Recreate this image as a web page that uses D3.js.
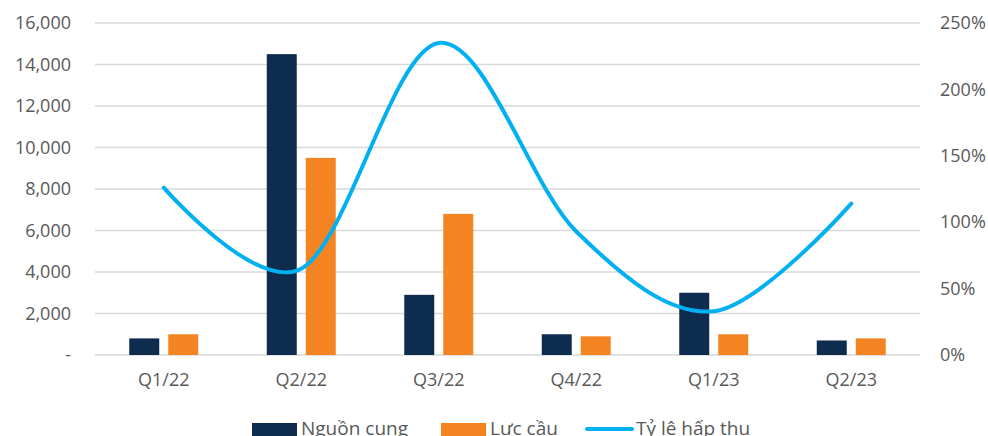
<!DOCTYPE html>
<html>
<head>
<meta charset="utf-8">
<script src="https://cdn.jsdelivr.net/npm/d3@7"></script>
<style>
  body { margin: 0; background: #fff; }
  svg { display: block; font-family: "Open Sans", sans-serif; }
</style>
</head>
<body>
<div id="chart"></div>
<script>
// Data
var quarters = ["Q1/22", "Q2/22", "Q3/22", "Q4/22", "Q1/23", "Q2/23"];
var supply = [800, 14500, 2900, 1000, 3000, 700];      // Nguồn cung
var demand = [1000, 9500, 6800, 900, 1000, 800];       // Lực cầu
var absorption = [1.26, 0.65, 2.35, 0.93, 0.33, 1.14]; // Tỷ lệ hấp thụ
var leftTicks = [0, 2000, 4000, 6000, 8000, 10000, 12000, 14000, 16000];
var rightTicks = [0, 0.5, 1, 1.5, 2, 2.5];

var W = 988, H = 436;
var margin = {top: 23, right: 68, bottom: 81, left: 95};
var width = W - margin.left - margin.right,
    height = H - margin.top - margin.bottom;

var svg = d3.select("#chart").append("svg")
    .attr("width", W)
    .attr("height", H);

var g = svg.append("g")
    .attr("transform", "translate(" + margin.left + "," + margin.top + ")");

var x = d3.scaleBand().domain(quarters).range([0, width]);
var y = d3.scaleLinear().domain([0, 16000]).range([height, 0]);
var y2 = d3.scaleLinear().domain([0, 2.5]).range([height, 0]);

// gridlines
g.selectAll(".grid")
  .data(leftTicks)
  .enter().append("line")
    .attr("x1", 0).attr("x2", width)
    .attr("y1", function(d) { return y(d); })
    .attr("y2", function(d) { return y(d); })
    .style("stroke", "#d9d9d9")
    .style("stroke-width", 1.5);

// left axis
var fmt = d3.format(",");
g.append("g")
  .call(d3.axisLeft(y).tickValues(leftTicks).tickSize(0).tickPadding(24)
    .tickFormat(function(d) { return d === 0 ? "-" : fmt(d); }))
  .call(function(a) { a.select(".domain").remove(); })
  .selectAll("text")
    .style("font-size", "18px")
    .style("fill", "#595959")
    .style("font-family", "Open Sans");

// right axis
g.append("g")
  .attr("transform", "translate(" + width + ",0)")
  .call(d3.axisRight(y2).tickValues(rightTicks).tickSize(0).tickPadding(20)
    .tickFormat(d3.format(".0%")))
  .call(function(a) { a.select(".domain").remove(); })
  .selectAll("text")
    .style("font-size", "18px")
    .style("fill", "#595959")
    .style("font-family", "Open Sans");

// x axis
g.append("g")
  .attr("transform", "translate(0," + height + ")")
  .call(d3.axisBottom(x).tickSize(0).tickPadding(18))
  .call(function(a) { a.select(".domain").remove(); })
  .selectAll("text")
    .style("font-size", "18px")
    .style("fill", "#595959")
    .style("font-family", "Open Sans");

// bars
var barW = 30, gap = 9;
g.selectAll(".supply")
  .data(supply)
  .enter().append("rect")
    .attr("x", function(d, i) { return x(quarters[i]) + x.bandwidth() / 2 - gap / 2 - barW; })
    .attr("y", function(d) { return y(d); })
    .attr("width", barW)
    .attr("height", function(d) { return height - y(d); })
    .style("fill", "#0e2d4e");

g.selectAll(".demand")
  .data(demand)
  .enter().append("rect")
    .attr("x", function(d, i) { return x(quarters[i]) + x.bandwidth() / 2 + gap / 2; })
    .attr("y", function(d) { return y(d); })
    .attr("width", barW)
    .attr("height", function(d) { return height - y(d); })
    .style("fill", "#f48422");

// absorption line
var line = d3.line()
  .x(function(d, i) { return x(quarters[i]) + x.bandwidth() / 2; })
  .y(function(d) { return y2(d); })
  .curve(d3.curveCardinal.tension(0));

g.append("path")
  .attr("d", line(absorption))
  .style("fill", "none")
  .style("stroke", "#00b0f0")
  .style("stroke-width", 4)
  .style("stroke-linecap", "round");

// legend
var legend = svg.append("g");
var items = [
  {label: "Nguồn cung", type: "rect", color: "#0e2d4e", x: 252, w: 45},
  {label: "Lực cầu", type: "rect", color: "#f48422", x: 441, w: 45},
  {label: "Tỷ lệ hấp thụ", type: "line", color: "#00b0f0", x: 587, w: 45}
];
items.forEach(function(it) {
  if (it.type === "rect") {
    legend.append("rect")
      .attr("x", it.x).attr("y", 423)
      .attr("width", it.w).attr("height", 13)
      .style("fill", it.color);
  } else {
    legend.append("line")
      .attr("x1", it.x).attr("x2", it.x + it.w)
      .attr("y1", 429).attr("y2", 429)
      .style("stroke", it.color)
      .style("stroke-width", 4)
      .style("stroke-linecap", "round");
  }
  legend.append("text")
    .attr("x", it.x + it.w + 4)
    .attr("y", 435)
    .style("font-size", "19px")
    .style("fill", "#595959")
    .text(it.label);
});
</script>
</body>
</html>
